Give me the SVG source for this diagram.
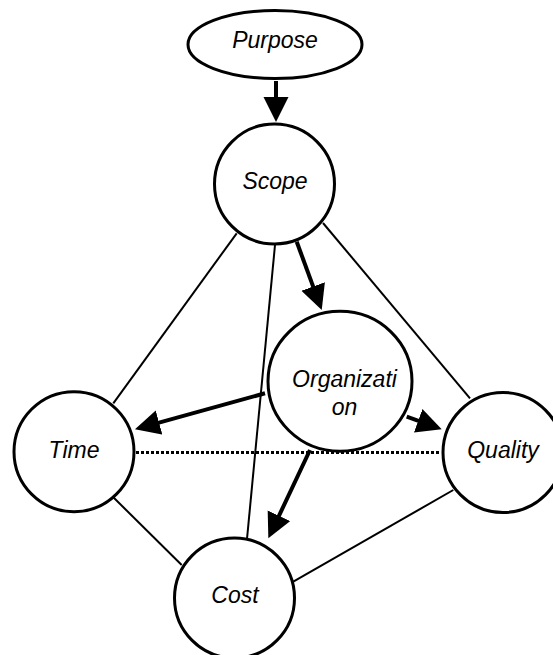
<svg xmlns="http://www.w3.org/2000/svg" width="553" height="655" viewBox="0 0 553 655">
<style>
.node{fill:#fff;stroke:#000;stroke-width:3}
.lbl{font-family:"Liberation Sans",Arial,sans-serif;font-style:italic;font-size:23px;fill:#000;text-anchor:middle}
.thin{stroke:#000;stroke-width:2;fill:none}
.thick{stroke:#000;stroke-width:4;fill:none;marker-end:url(#ah)}
.dot{stroke:#000;stroke-width:3;stroke-dasharray:3 2;fill:none}
</style>
<defs>
<marker id="ah" markerUnits="userSpaceOnUse" markerWidth="26" markerHeight="26" refX="15" refY="12.5" orient="auto">
<path d="M0,0 L25,12.5 L0,25 Z" fill="#000"/>
</marker>
</defs>
<rect width="553" height="655" fill="#fff"/>
<g id="connectors">
<line class="thin" x1="236.7" y1="233.3" x2="113.3" y2="403.3"/>
<line class="thin" x1="275" y1="245" x2="247" y2="539"/>
<line class="thin" x1="323" y1="223" x2="470" y2="398.3"/>
<line class="thin" x1="113.3" y1="497.3" x2="181.7" y2="565"/>
<line class="thin" x1="293.3" y1="581.7" x2="453.3" y2="490"/>
<line class="dot" x1="136" y1="452.5" x2="441" y2="452.5"/>
<line class="thick" x1="276" y1="81" x2="276" y2="112"/>
<line class="thick" x1="296.7" y1="241.7" x2="318.3" y2="300.6"/>
<line class="thick" x1="265" y1="393.3" x2="144.6" y2="426.6"/>
<line class="thick" x1="406.7" y1="416.7" x2="432.3" y2="425.9"/>
<line class="thick" x1="310" y1="450" x2="272.6" y2="529.3"/>
</g>
<g id="purpose">
<ellipse class="node" cx="275" cy="44.5" rx="87" ry="34"/>
<text class="lbl" x="275" y="48.3">Purpose</text>
</g>
<g id="scope">
<circle class="node" cx="274.5" cy="184" r="60"/>
<text class="lbl" x="275" y="189.3">Scope</text>
</g>
<g id="organization">
<ellipse class="node" cx="340" cy="381.3" rx="72" ry="70"/>
<text class="lbl" x="344.5" y="387.3">Organizati</text>
<text class="lbl" x="344.5" y="415">on</text>
</g>
<g id="time">
<circle class="node" cx="74" cy="451.7" r="60"/>
<text class="lbl" x="74" y="457.7">Time</text>
</g>
<g id="quality">
<circle class="node" cx="503" cy="452.5" r="60"/>
<text class="lbl" x="503" y="457.7">Quality</text>
</g>
<g id="cost">
<circle class="node" cx="234.5" cy="598" r="60"/>
<text class="lbl" x="235" y="603.3">Cost</text>
</g>
</svg>
